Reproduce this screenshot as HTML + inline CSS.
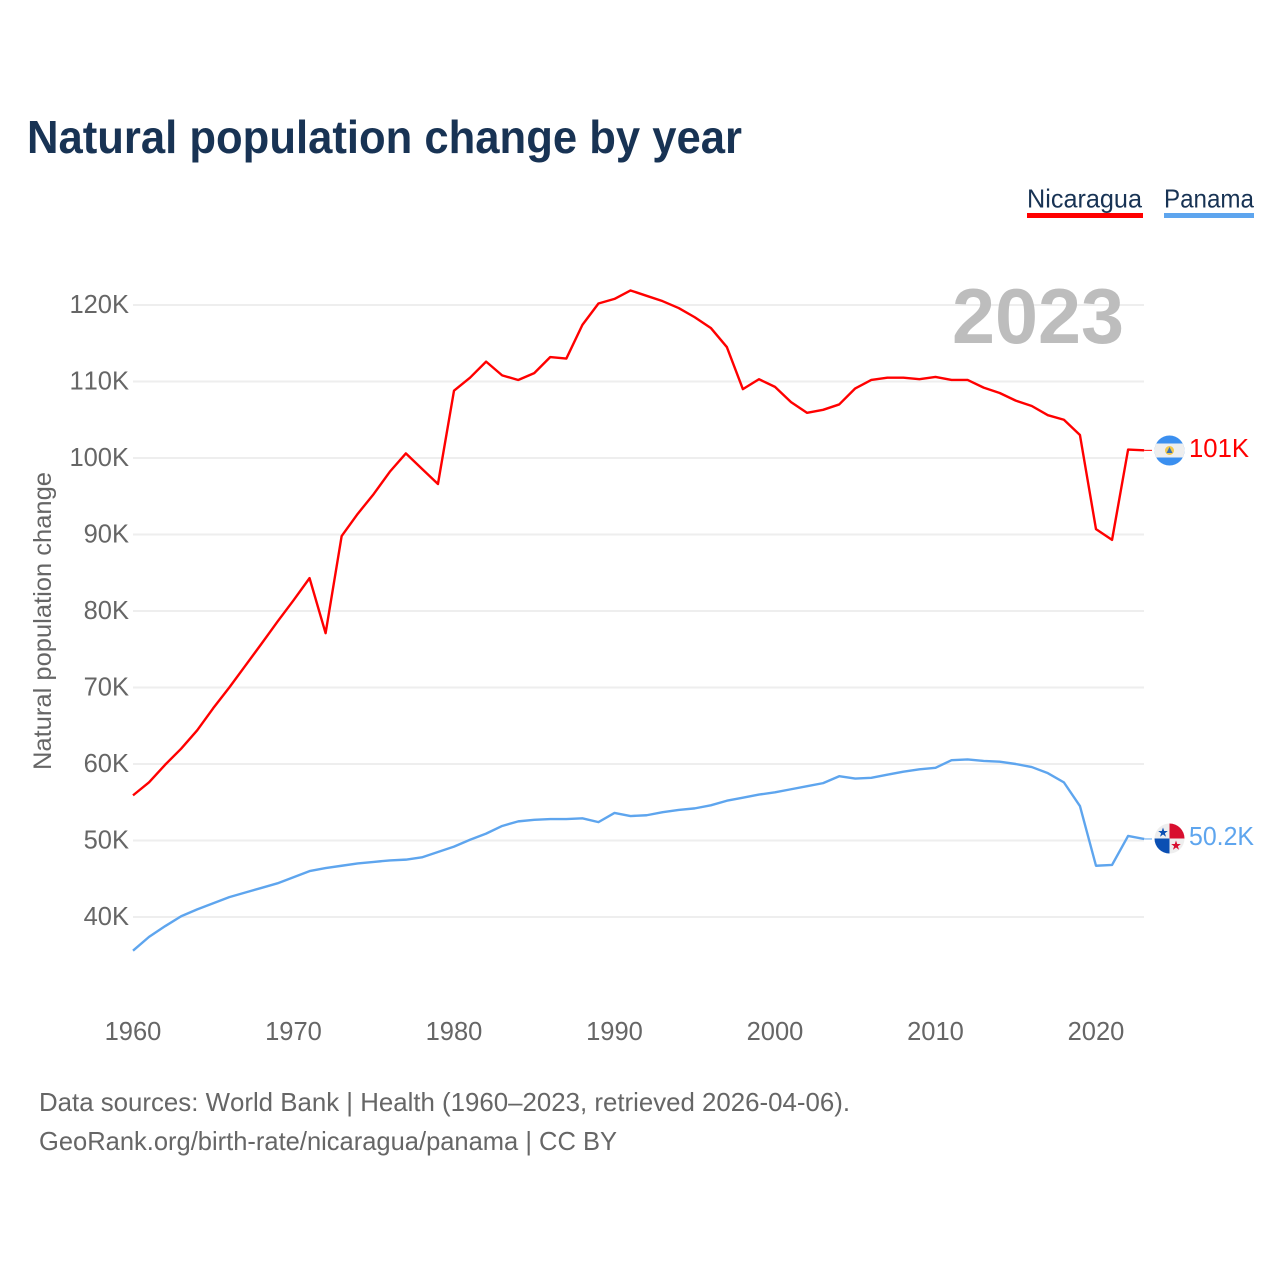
<!DOCTYPE html>
<html lang="en">
<head>
<meta charset="utf-8">
<title>Natural population change by year</title>
<style>
html,body{margin:0;padding:0;background:#fff;}
svg{display:block;}
text{font-family:"Liberation Sans",sans-serif;font-kerning:none;}
</style>
</head>
<body>
<svg id="chart" xmlns="http://www.w3.org/2000/svg" width="1280" height="1280" viewBox="0 0 1280 1280">
  <rect width="1280" height="1280" fill="#ffffff"/>
  <text x="27" y="153" font-size="46.5" font-weight="700" fill="#183354" textLength="715" lengthAdjust="spacingAndGlyphs">Natural population change by year</text>

  <g>
    <g>
      <text x="1027" y="207.5" font-size="26" fill="#183354" textLength="115" lengthAdjust="spacingAndGlyphs">Nicaragua</text>
      <rect x="1027" y="213" width="116" height="5" fill="#ff0000"/>
    </g>
    <g>
      <text x="1164" y="207.5" font-size="26" fill="#183354" textLength="90" lengthAdjust="spacingAndGlyphs">Panama</text>
      <rect x="1164" y="213" width="90" height="5" fill="#5ea5ee"/>
    </g>
  </g>

  <g id="grid"></g>
  <g id="yticks"></g>
  <g id="xticks"></g>

  <text x="952" y="343" font-size="78" font-weight="700" fill="#bdbdbd" textLength="172" lengthAdjust="spacingAndGlyphs">2023</text>

  <text transform="translate(51 621) rotate(-90)" text-anchor="middle" font-size="25" fill="#666666" textLength="298" lengthAdjust="spacingAndGlyphs">Natural population change</text>

  <g id="series"></g>

  <g>
    <clipPath id="clip-nic"><circle cx="1169.5" cy="450.5" r="15"/></clipPath>
    <g clip-path="url(#clip-nic)">
      <rect x="1154" y="435" width="31" height="31" fill="#3b8fef"/>
      <rect x="1154" y="443.5" width="31" height="14" fill="#eeeeee"/>
      <circle cx="1169.5" cy="450.5" r="4.5" fill="#f2c84b"/>
      <polygon points="1169.5,447 1172.5,453 1166.5,453" fill="#3a6fb0"/>
    </g>
  </g>
  <g>
    <clipPath id="clip-pan"><circle cx="1169.5" cy="838.5" r="15"/></clipPath>
    <g clip-path="url(#clip-pan)">
      <rect x="1154" y="823" width="31" height="31" fill="#eeeeee"/>
      <rect x="1169.5" y="823" width="15.5" height="15.5" fill="#d80f2f"/>
      <rect x="1154" y="838.5" width="15.5" height="15.5" fill="#0b4fb3"/>
      <polygon points="1163,827.5 1164.2,831 1167.8,831 1164.9,833.2 1166,836.7 1163,834.5 1160,836.7 1161.1,833.2 1158.2,831 1161.8,831" fill="#0b4fb3"/>
      <polygon points="1176,840.5 1177.2,844 1180.8,844 1177.9,846.2 1179,849.7 1176,847.5 1173,849.7 1174.1,846.2 1171.2,844 1174.8,844" fill="#d80f2f"/>
    </g>
  </g>

  <text x="1189" y="457" font-size="25.5" fill="#ff0000" textLength="60" lengthAdjust="spacingAndGlyphs">101K</text>
  <text x="1189" y="845" font-size="25.5" fill="#5ea5ee" textLength="65" lengthAdjust="spacingAndGlyphs">50.2K</text>

  <text x="39" y="1111" font-size="26" fill="#666666" textLength="811" lengthAdjust="spacingAndGlyphs">Data sources: World Bank | Health (1960–2023, retrieved 2026-04-06).</text>
  <text x="39" y="1150" font-size="26" fill="#666666" textLength="578" lengthAdjust="spacingAndGlyphs">GeoRank.org/birth-rate/nicaragua/panama | CC BY</text>
</svg>
<script>
const startYear = 1960;
const yTickValues = [40, 50, 60, 70, 80, 90, 100, 110, 120];
const xTickValues = [1960, 1970, 1980, 1990, 2000, 2010, 2020];
const nicaraguaValues = [
  55.9, 57.6, 59.9, 62.0, 64.4, 67.3, 70.0, 72.85, 75.7, 78.6,
  81.4, 84.3, 77.1, 89.8, 92.7, 95.3, 98.2, 100.6, 98.6, 96.6,
  108.8, 110.5, 112.6, 110.8, 110.2, 111.1, 113.2, 113.0, 117.4, 120.2,
  120.8, 121.9, 121.2, 120.5, 119.6, 118.4, 117.0, 114.5, 109.0, 110.3,
  109.3, 107.3, 105.9, 106.3, 107.0, 109.1, 110.2, 110.5, 110.5, 110.3,
  110.6, 110.2, 110.2, 109.2, 108.5, 107.5, 106.8, 105.6, 105.0, 103.0,
  90.7, 89.3, 101.1, 101.0
];
const panamaValues = [
  35.6, 37.4, 38.8, 40.1, 41.0, 41.8, 42.6, 43.2, 43.8, 44.4,
  45.2, 46.0, 46.4, 46.7, 47.0, 47.2, 47.4, 47.5, 47.8, 48.5,
  49.2, 50.1, 50.9, 51.9, 52.5, 52.7, 52.8, 52.8, 52.9, 52.4,
  53.6, 53.2, 53.3, 53.7, 54.0, 54.2, 54.6, 55.2, 55.6, 56.0,
  56.3, 56.7, 57.1, 57.5, 58.4, 58.1, 58.2, 58.6, 59.0, 59.3,
  59.5, 60.5, 60.6, 60.4, 60.3, 60.0, 59.6, 58.8, 57.6, 54.5,
  46.7, 46.8, 50.6, 50.2
];

const NS = 'http://www.w3.org/2000/svg';
const xScale = function (year) { return 133 + (year - 1960) * 16.05; };
const yScale = function (v) { return 917 - (v - 40) * 7.65; };

const grid = document.getElementById('grid');
const yticks = document.getElementById('yticks');
const xticks = document.getElementById('xticks');
const series = document.getElementById('series');

yTickValues.forEach(function (v) {
  const line = document.createElementNS(NS, 'line');
  
  
  line.setAttribute('x1', 133);
  line.setAttribute('x2', 1144);
  line.setAttribute('y1', yScale(v));
  line.setAttribute('y2', yScale(v));
  line.setAttribute('stroke', '#eeeeee');
  line.setAttribute('stroke-width', 2);
  grid.appendChild(line);

  const label = document.createElementNS(NS, 'text');
  
  
  label.setAttribute('x', 129);
  label.setAttribute('y', yScale(v) + 8);
  label.setAttribute('text-anchor', 'end');
  label.setAttribute('font-size', 25.5);
  label.setAttribute('fill', '#666666');
  label.textContent = v + 'K';
  yticks.appendChild(label);
});

xTickValues.forEach(function (yr) {
  const label = document.createElementNS(NS, 'text');
  
  
  label.setAttribute('x', xScale(yr));
  label.setAttribute('y', 1040);
  label.setAttribute('text-anchor', 'middle');
  label.setAttribute('font-size', 25.5);
  label.setAttribute('fill', '#666666');
  label.textContent = yr;
  xticks.appendChild(label);
});

function pathFor(values) {
  return values.map(function (v, i) {
    return (i ? 'L' : 'M') + xScale(startYear + i).toFixed(2) + ' ' + yScale(v).toFixed(2);
  }).join(' ');
}

const nicaraguaLine = document.createElementNS(NS, 'path');


nicaraguaLine.setAttribute('d', pathFor(nicaraguaValues));
nicaraguaLine.setAttribute('fill', 'none');
nicaraguaLine.setAttribute('stroke', '#ff0000');
nicaraguaLine.setAttribute('stroke-width', 2.4);
nicaraguaLine.setAttribute('stroke-linejoin', 'round');
series.appendChild(nicaraguaLine);

const panamaLine = document.createElementNS(NS, 'path');


panamaLine.setAttribute('d', pathFor(panamaValues));
panamaLine.setAttribute('fill', 'none');
panamaLine.setAttribute('stroke', '#5ea5ee');
panamaLine.setAttribute('stroke-width', 2.4);
panamaLine.setAttribute('stroke-linejoin', 'round');
series.appendChild(panamaLine);

const nicaraguaConnector = document.createElementNS(NS, 'line');


nicaraguaConnector.setAttribute('x1', xScale(2023));
nicaraguaConnector.setAttribute('x2', 1152);
nicaraguaConnector.setAttribute('y1', yScale(nicaraguaValues[nicaraguaValues.length - 1]));
nicaraguaConnector.setAttribute('y2', yScale(nicaraguaValues[nicaraguaValues.length - 1]));
nicaraguaConnector.setAttribute('stroke', '#ff0000');
nicaraguaConnector.setAttribute('stroke-width', 1);
series.appendChild(nicaraguaConnector);

const panamaConnector = document.createElementNS(NS, 'line');


panamaConnector.setAttribute('x1', xScale(2023));
panamaConnector.setAttribute('x2', 1152);
panamaConnector.setAttribute('y1', yScale(panamaValues[panamaValues.length - 1]));
panamaConnector.setAttribute('y2', yScale(panamaValues[panamaValues.length - 1]));
panamaConnector.setAttribute('stroke', '#5ea5ee');
panamaConnector.setAttribute('stroke-width', 1);
series.appendChild(panamaConnector);
</script>
</body>
</html>
